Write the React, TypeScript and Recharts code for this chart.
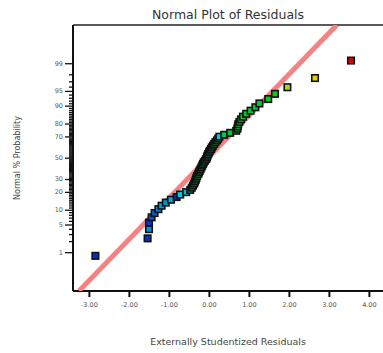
import React from 'react';
import { ScatterChart, Scatter, XAxis, YAxis, ReferenceLine } from 'recharts';

const residuals = [
  -2.85, -1.545, -1.51, -1.51, -1.445, -1.37, -1.275, -1.195, -1.09, -0.96,
  -0.82, -0.73, -0.58, -0.48, -0.44, -0.41, -0.38, -0.36, -0.34, -0.325,
  -0.31, -0.28, -0.26, -0.24, -0.22, -0.2, -0.18, -0.16, -0.14, -0.11,
  -0.08, -0.06, -0.05, -0.03, -0.01, 0.01, 0.04, 0.06, 0.09, 0.12,
  0.15, 0.19, 0.22, 0.25, 0.37, 0.52, 0.67, 0.7, 0.71, 0.72,
  0.75, 0.79, 0.84, 0.92, 1.03, 1.15, 1.25, 1.47, 1.64, 1.95,
  2.64, 3.54,
];

const percents = [
  0.81, 2.42, 4.03, 5.65, 7.26, 8.87, 10.48, 12.1, 13.71, 15.32,
  16.94, 18.55, 20.16, 21.77, 23.39, 25.0, 26.61, 28.23, 29.84, 31.45,
  33.06, 34.68, 36.29, 37.9, 39.52, 41.13, 42.74, 44.35, 45.97, 47.58,
  49.19, 50.81, 52.42, 54.03, 55.65, 57.26, 58.87, 60.48, 62.1, 63.71,
  65.32, 66.94, 68.55, 70.16, 71.77, 73.39, 75.0, 76.61, 78.23, 79.84,
  81.45, 83.06, 84.68, 86.29, 87.9, 89.52, 91.13, 92.74, 94.35, 95.97,
  97.58, 99.19,
];

const pointColors = [
  '#0030d0', '#0030d0', '#0090e0', '#0038d8', '#0050e0', '#0060e0', '#0080e0', '#00a0e0', '#0090d0', '#00b0d0',
  '#0030b0', '#00c8e0', '#00c0c0', '#00c0a0', '#00c080', '#00b070', '#00c060', '#00c050', '#00b870', '#00c050',
  '#00c040', '#00c040', '#00c050', '#00c040', '#00c040', '#00c060', '#00c040', '#00c040', '#00c050', '#00c040',
  '#00c040', '#00c040', '#00c050', '#00c8e0', '#00c040', '#00c040', '#00c050', '#00c040', '#00c040', '#00c040',
  '#00c040', '#00c050', '#00c040', '#00c8e0', '#00c060', '#00c830', '#00c830', '#00c830', '#00c830', '#00c830',
  '#00c830', '#00c830', '#00c830', '#00c830', '#00c830', '#00c830', '#00c830', '#00c830', '#10c810', '#b0d800',
  '#e8d000', '#e00000',
];

const fitResiduals = [-3.26, 3.185];
const fitPercents = [0.054, 99.948];

const xTicks = [-3, -2, -1, 0, 1, 2, 3, 4];
const yMajorTicks = [1, 5, 10, 20, 30, 50, 70, 80, 90, 95, 99];
const yMinorTicks = [
  2, 3, 4, 6, 7, 8, 9,
  11, 12, 13, 14, 15, 16, 17, 18, 19,
  21, 22, 23, 24, 25, 26, 27, 28, 29,
  31, 32, 33, 34, 35, 36, 37, 38, 39, 40, 41, 42, 43, 44, 45, 46, 47, 48, 49,
  51, 52, 53, 54, 55, 56, 57, 58, 59, 60, 61, 62, 63, 64, 65, 66, 67, 68, 69,
  71, 72, 73, 74, 75, 76, 77, 78, 79,
  81, 82, 83, 84, 85, 86, 87, 88, 89,
  91, 92, 93, 94, 96, 97, 98,
];

// inverse standard normal CDF (Acklam) – the probability-axis scale transform
function probit(p: number): number {
  const a = [-39.69683028665376, 220.9460984245205, -275.9285104469687, 138.357751867269, -30.66479806614716, 2.506628277459239];
  const b = [-54.47609879822406, 161.5858368580409, -155.6989798598866, 66.80131188771972, -13.28068155288572];
  const c = [-0.007784894002430293, -0.3223964580411365, -2.400758277161838, -2.549732539343734, 4.374664141464968, 2.938163982698783];
  const d = [0.007784695709041462, 0.3224671290700398, 2.445134137142996, 3.754408661907416];
  const pl = 0.02425;
  if (p < pl) {
    const q = Math.sqrt(-2 * Math.log(p));
    return (((((c[0] * q + c[1]) * q + c[2]) * q + c[3]) * q + c[4]) * q + c[5]) /
      ((((d[0] * q + d[1]) * q + d[2]) * q + d[3]) * q + 1);
  }
  if (p > 1 - pl) {
    const q = Math.sqrt(-2 * Math.log(1 - p));
    return -(((((c[0] * q + c[1]) * q + c[2]) * q + c[3]) * q + c[4]) * q + c[5]) /
      ((((d[0] * q + d[1]) * q + d[2]) * q + d[3]) * q + 1);
  }
  const q = p - 0.5;
  const r = q * q;
  return (((((a[0] * r + a[1]) * r + a[2]) * r + a[3]) * r + a[4]) * r + a[5]) * q /
    (((((b[0] * r + b[1]) * r + b[2]) * r + b[3]) * r + b[4]) * r + 1);
}

const points = residuals.map((r, i) => ({ x: r, y: probit(percents[i] / 100), color: pointColors[i] }));
const fitData = fitResiduals.map((r, i) => ({ x: r, y: probit(fitPercents[i] / 100) }));
const majorZ = yMajorTicks.map((p) => probit(p / 100));
const yTickZ = [...yMajorTicks, ...yMinorTicks].sort((a, b) => a - b).map((p) => probit(p / 100));

const FONT = '"DejaVu Sans", sans-serif';
const X_DOMAIN: [number, number] = [-3.41, 4.34];
const Y_DOMAIN: [number, number] = [-3.27, 3.28];

const YTick = (props: any) => {
  const { x, y, payload } = props;
  const idx = majorZ.findIndex((z) => Math.abs(z - payload.value) < 1e-9);
  const major = idx >= 0;
  return (
    <g>
      <line x1={x - (major ? 8 : 4)} y1={y} x2={x} y2={y} stroke="#111" strokeWidth={1.3} />
      {major && (
        <text x={x - 10} y={y} textAnchor="end" dominantBaseline="central" fontSize={6.5} fill="#555" fontFamily={FONT}>
          {yMajorTicks[idx]}
        </text>
      )}
    </g>
  );
};

const Square = (props: any) => {
  const { cx, cy, payload } = props;
  if (cx == null || cy == null) return <g />;
  const s = 6.5;
  return <rect x={cx - s / 2} y={cy - s / 2} width={s} height={s} fill={payload.color} stroke="#111" strokeWidth={1.6} />;
};

export default function App() {
  return (
    <div style={{ position: 'absolute', left: 0, top: 0, background: '#fff' }}>
      <ScatterChart width={383} height={353} margin={{ top: 25, right: 0, bottom: 32, left: 13 }}>
        <XAxis
          xAxisId="b"
          type="number"
          dataKey="x"
          domain={X_DOMAIN}
          allowDataOverflow
          ticks={xTicks}
          interval={0}
          tickFormatter={(v: number) => v.toFixed(2)}
          axisLine={{ stroke: '#111', strokeWidth: 2 }}
          tickLine={{ stroke: '#111', strokeWidth: 2 }}
          tickSize={6}
          tickMargin={5}
          tick={{ fontSize: 6.5, fill: '#555', fontFamily: FONT }}
          height={30}
          label={{
            content: (p: any) => {
              const vb = p.viewBox;
              return (
                <text x={vb.x + vb.width / 2} y={vb.y + 50} textAnchor="middle" dominantBaseline="central" fontSize={9.5} fill="#444" fontFamily={FONT}>
                  Externally Studentized Residuals
                </text>
              );
            },
          }}
        />
        <YAxis
          yAxisId="l"
          type="number"
          dataKey="y"
          domain={Y_DOMAIN}
          allowDataOverflow
          ticks={yTickZ}
          interval={0}
          tickSize={0}
          tickMargin={0}
          tickLine={false}
          tick={<YTick />}
          width={60}
          axisLine={{ stroke: '#111', strokeWidth: 2 }}
          label={{
            content: (p: any) => {
              const vb = p.viewBox;
              const cx = vb.x + 4;
              const cy = vb.y + vb.height / 2;
              return (
                <text x={cx} y={cy} transform={`rotate(-90 ${cx} ${cy})`} textAnchor="middle" dominantBaseline="central" fontSize={8} fill="#444" fontFamily={FONT}>
                  Normal % Probability
                </text>
              );
            },
          }}
        />
        <ReferenceLine
          xAxisId="b"
          yAxisId="l"
          y={Y_DOMAIN[1]}
          stroke="#222"
          strokeWidth={1.5}
          ifOverflow="visible"
          label={{
            content: (p: any) => {
              const vb = p.viewBox;
              return (
                <text x={vb.x + vb.width / 2} y={vb.y - 11} textAnchor="middle" dominantBaseline="central" fontSize={12.5} fill="#333" fontFamily={FONT}>
                  Normal Plot of Residuals
                </text>
              );
            },
          }}
        />
        <Scatter
          xAxisId="b"
          yAxisId="l"
          data={fitData}
          line={{ stroke: '#f58282', strokeWidth: 5 }}
          shape={() => <g />}
          isAnimationActive={false}
        />
        <Scatter xAxisId="b" yAxisId="l" data={points} shape={Square} isAnimationActive={false} />
      </ScatterChart>
    </div>
  );
}
